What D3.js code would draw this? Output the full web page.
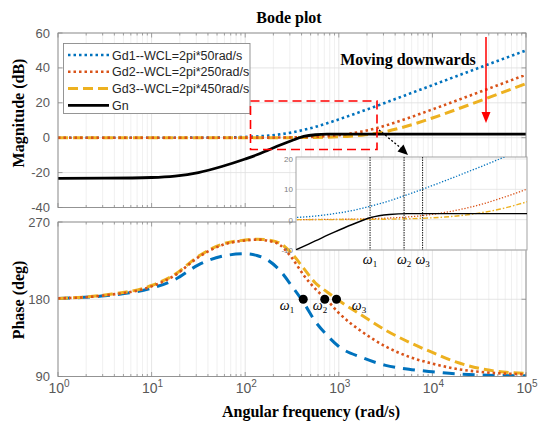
<!DOCTYPE html>
<html>
<head>
<meta charset="utf-8">
<script src="https://d3js.org/d3.v7.min.js"></script>
<style>
  body { margin: 0; background: #fff; }
  svg { display: block; }
  .tick-lbl { font-family: "Liberation Sans", Arial, sans-serif; font-size: 13px; fill: #595959; }
  .bold-lbl { font-family: "Liberation Serif", "Times New Roman", serif; font-weight: bold; font-size: 16px; fill: #000; }
  .leg { font-family: "Liberation Sans", Arial, sans-serif; font-size: 12.5px; fill: #262626; }
  .omega { font-family: "Liberation Serif", "Times New Roman", serif; font-style: italic; font-size: 14px; fill: #000; }
</style>
</head>
<body>
<svg id="chart" width="539" height="424"></svg>
<script>
// frequency grid (log10 of rad/s) for the magnitude curves
var magExp = [0, 0.5, 1, 1.25, 1.5, 1.75, 2, 2.125, 2.25, 2.375, 2.5, 2.625, 2.75, 2.875, 3, 3.125, 3.25, 3.375, 3.5, 3.625, 3.75, 4, 4.5, 5];
var magGd1 = [0, 0, 0, 0, 0.05, 0.14, 0.42, 0.72, 1.2, 1.96, 3.0, 4.47, 6.2, 8.27, 10.5, 12.8, 15.2, 17.6, 20.1, 22.6, 25.1, 30.1, 40.1, 50];
var magGd2 = [0, 0, 0, 0, 0, 0, 0.02, 0.03, 0.06, 0.1, 0.17, 0.3, 0.53, 0.89, 1.48, 2.36, 3.58, 5.1, 7.0, 9.1, 11.4, 16.2, 26.1, 36.1];
var magGd3 = [0, 0, 0, 0, 0, 0, 0.01, 0.01, 0.02, 0.03, 0.05, 0.1, 0.17, 0.3, 0.52, 0.87, 1.45, 2.32, 3.5, 5.1, 6.96, 11.3, 21.0, 31.0];
var magGn  = [-23.3, -23.2, -22.8, -22.0, -20.0, -16.5, -12.2, -9.8, -7.0, -4.2, -1.6, 0.7, 1.7, 2.0, 2.0, 2.0, 2.0, 2.0, 2.0, 2.0, 2.0, 2.0, 2.0, 2.0];

// frequency grid for the phase curves
var phExp = [0, 0.5, 1, 1.25, 1.5, 1.75, 2, 2.125, 2.25, 2.375, 2.5, 2.625, 2.75, 2.875, 3, 3.25, 3.5, 3.75, 4, 4.25, 4.5, 5];
var phGd1 = [181, 184, 193, 203, 220, 230, 233, 231, 225, 213, 195, 176, 154, 138, 125, 112, 103, 98.5, 95.5, 93, 91.8, 90.8];
var phGd2 = [181, 184.5, 195, 208, 229, 243, 248.5, 249.5, 248, 243, 228, 208, 192, 179, 164, 142, 125, 113, 105, 99, 95.5, 92.5];
var phGd3 = [181, 185, 196, 209, 230, 244, 249, 250, 249, 245, 233, 216, 199, 188.5, 178.5, 161, 144, 130, 118, 107, 99.5, 93.5];

// crossover frequencies (rad/s)
var omegaVals = [417, 708, 944];
var omegaNames = ["1", "2", "3"];

var seriesNames = ["Gd1--WCL=2pi*50rad/s", "Gd2--WCL=2pi*250rad/s", "Gd3--WCL=2pi*450rad/s", "Gn"];
var magTicks = [-40, -20, 0, 20, 40, 60];
var phTicks = [90, 180, 270];
var decades = [0, 1, 2, 3, 4, 5];

var C_BLUE = "#0072BD", C_ORANGE = "#D95319", C_YELLOW = "#EDB120";

var svg = d3.select("#chart");

var L = 58, R = 526;
var x = d3.scaleLog().domain([1, 1e5]).range([L, R]);
var yMag = d3.scaleLinear().domain([-40, 60]).range([207.5, 33]);
var yPh = d3.scaleLinear().domain([90, 270]).range([376.5, 222]);

function pts(exps, vals) {
  return exps.map(function (e, i) { return [Math.pow(10, e), vals[i]]; });
}

// minor log positions
var minors = [];
for (var d = 0; d < 5; d++) {
  for (var k = 2; k <= 9; k++) minors.push(k * Math.pow(10, d));
}
var majors = decades.map(function (e) { return Math.pow(10, e); });

function drawAxes(yScale, ticks) {
  var g = svg.append("g");
  var top = yScale.range()[1], bot = yScale.range()[0];
  g.append("rect").attr("x", L).attr("y", top).attr("width", R - L).attr("height", bot - top).attr("fill", "#fff");
  g.selectAll(".mn").data(minors).enter().append("line")
    .attr("x1", function (v) { return x(v); }).attr("x2", function (v) { return x(v); })
    .attr("y1", top).attr("y2", bot).attr("stroke", "#ececec").attr("stroke-width", 0.8);
  g.selectAll(".mj").data(majors).enter().append("line")
    .attr("x1", function (v) { return x(v); }).attr("x2", function (v) { return x(v); })
    .attr("y1", top).attr("y2", bot).attr("stroke", "#dedede").attr("stroke-width", 0.8);
  g.selectAll(".hy").data(ticks).enter().append("line")
    .attr("x1", L).attr("x2", R)
    .attr("y1", function (v) { return yScale(v); }).attr("y2", function (v) { return yScale(v); })
    .attr("stroke", "#dedede").attr("stroke-width", 0.8);
  // inward ticks
  var tk = g.append("g").attr("stroke", "#8a8a8a").attr("stroke-width", 0.8);
  minors.forEach(function (v) {
    tk.append("line").attr("x1", x(v)).attr("x2", x(v)).attr("y1", bot).attr("y2", bot - 2.5);
    tk.append("line").attr("x1", x(v)).attr("x2", x(v)).attr("y1", top).attr("y2", top + 2.5);
  });
  majors.forEach(function (v) {
    tk.append("line").attr("x1", x(v)).attr("x2", x(v)).attr("y1", bot).attr("y2", bot - 4.5);
    tk.append("line").attr("x1", x(v)).attr("x2", x(v)).attr("y1", top).attr("y2", top + 4.5);
  });
  ticks.forEach(function (v) {
    tk.append("line").attr("x1", L).attr("x2", L + 4.5).attr("y1", yScale(v)).attr("y2", yScale(v));
    tk.append("line").attr("x1", R).attr("x2", R - 4.5).attr("y1", yScale(v)).attr("y2", yScale(v));
  });
  g.selectAll(".yl").data(ticks).enter().append("text")
    .attr("class", "tick-lbl").attr("x", L - 8).attr("y", function (v) { return yScale(v) + 4.5; })
    .attr("text-anchor", "end").text(function (v) { return v; });
  return g;
}

function lineFn(yScale, xs) {
  return d3.line().x(function (p) { return xs(p[0]); }).y(function (p) { return yScale(p[1]); }).curve(d3.curveMonotoneX);
}

function addClip(id, x0, y0, w, h) {
  svg.append("clipPath").attr("id", id).append("rect").attr("x", x0).attr("y", y0).attr("width", w).attr("height", h);
}

// ---------- magnitude ----------
drawAxes(yMag, magTicks);
addClip("clipMag", L, 33, R - L, 207.5 - 33);
var gm = svg.append("g").attr("clip-path", "url(#clipMag)");
var lm = lineFn(yMag, x);
gm.append("path").attr("d", lm(pts(magExp, magGd1))).attr("fill", "none").attr("stroke", C_BLUE).attr("stroke-width", 2.6).attr("stroke-dasharray", "2.5 3");
gm.append("path").attr("d", lm(pts(magExp, magGd3))).attr("fill", "none").attr("stroke", C_YELLOW).attr("stroke-width", 3).attr("stroke-dasharray", "10 5");
gm.append("path").attr("d", lm(pts(magExp, magGd2))).attr("fill", "none").attr("stroke", C_ORANGE).attr("stroke-width", 2.6).attr("stroke-dasharray", "2.5 3");
gm.append("path").attr("d", lm(pts(magExp, magGn))).attr("fill", "none").attr("stroke", "#000").attr("stroke-width", 2.8);
svg.append("rect").attr("x", L).attr("y", 33).attr("width", R - L).attr("height", 207.5 - 33).attr("fill", "none").attr("stroke", "#8a8a8a").attr("stroke-width", 0.9);

// legend
var lg = svg.append("g");
lg.append("rect").attr("x", 63.5).attr("y", 43.5).attr("width", 186.5).attr("height", 70).attr("fill", "#fff").attr("stroke", "#8a8a8a").attr("stroke-width", 0.9);
var legStyles = [
  { c: C_BLUE, w: 2.6, dash: "2.5 3" },
  { c: C_ORANGE, w: 2.6, dash: "2.5 3" },
  { c: C_YELLOW, w: 3, dash: "10 5" },
  { c: "#000", w: 2.8, dash: null }
];
seriesNames.forEach(function (name, i) {
  var yy = 55 + i * 16.8;
  var ln = lg.append("line").attr("x1", 68).attr("x2", 109).attr("y1", yy).attr("y2", yy)
    .attr("stroke", legStyles[i].c).attr("stroke-width", legStyles[i].w);
  if (legStyles[i].dash) ln.attr("stroke-dasharray", legStyles[i].dash);
  lg.append("text").attr("class", "leg").attr("x", 112).attr("y", yy + 4.5).text(name);
});

// annotations
svg.append("text").attr("class", "bold-lbl").attr("x", 289).attr("y", 23).attr("text-anchor", "middle").text("Bode plot");
svg.append("text").attr("class", "bold-lbl").attr("x", 408).attr("y", 65).attr("text-anchor", "middle").text("Moving downwards");
svg.append("line").attr("x1", 486).attr("x2", 486).attr("y1", 37).attr("y2", 113).attr("stroke", "#ff0000").attr("stroke-width", 1.5);
svg.append("path").attr("d", "M481.5,112 L490.5,112 L486,123 Z").attr("fill", "#ff0000");
svg.append("rect").attr("x", 250.5).attr("y", 101).attr("width", 126.5).attr("height", 48.5)
  .attr("fill", "none").attr("stroke", "#ff0000").attr("stroke-width", 1.6).attr("stroke-dasharray", "9 5");

// ---------- phase ----------
drawAxes(yPh, phTicks);
addClip("clipPh", L, 222, R - L, 376.5 - 222);
var gp = svg.append("g").attr("clip-path", "url(#clipPh)");
var lp = lineFn(yPh, x);
gp.append("path").attr("d", lp(pts(phExp, phGd1))).attr("fill", "none").attr("stroke", C_BLUE).attr("stroke-width", 3).attr("stroke-dasharray", "12 8");
gp.append("path").attr("d", lp(pts(phExp, phGd3))).attr("fill", "none").attr("stroke", C_YELLOW).attr("stroke-width", 3).attr("stroke-dasharray", "10 5");
gp.append("path").attr("d", lp(pts(phExp, phGd2))).attr("fill", "none").attr("stroke", C_ORANGE).attr("stroke-width", 2.6).attr("stroke-dasharray", "2.5 3");
svg.append("rect").attr("x", L).attr("y", 222).attr("width", R - L).attr("height", 376.5 - 222).attr("fill", "none").attr("stroke", "#8a8a8a").attr("stroke-width", 0.9);

svg.selectAll(".dot").data(omegaVals).enter().append("circle")
  .attr("cx", function (v) { return x(v); }).attr("cy", yPh(180)).attr("r", 4.5).attr("fill", "#000");
var phOmegaX = [287, 320, 359];
omegaNames.forEach(function (n, i) {
  var t = svg.append("text").attr("class", "omega").attr("x", phOmegaX[i]).attr("y", 310).attr("text-anchor", "middle");
  t.append("tspan").text("\u03c9");
  t.append("tspan").attr("dy", 3).attr("font-size", 9).attr("font-style", "normal").text(n);
});

// x tick labels
decades.forEach(function (e) {
  var t = svg.append("text").attr("class", "tick-lbl").attr("x", x(Math.pow(10, e)) + 1).attr("y", 393).attr("text-anchor", "middle");
  t.append("tspan").attr("font-size", 14).text("10");
  t.append("tspan").attr("dy", -6).attr("font-size", 10).text(e);
});

// axis titles
svg.append("text").attr("class", "bold-lbl").attr("transform", "translate(24,113) rotate(-90)").attr("text-anchor", "middle").text("Magnitude (dB)");
svg.append("text").attr("class", "bold-lbl").attr("transform", "translate(24,300) rotate(-90)").attr("text-anchor", "middle").text("Phase (deg)");
svg.append("text").attr("class", "bold-lbl").attr("x", 311).attr("y", 417).attr("text-anchor", "middle").text("Angular frequency (rad/s)");

// ---------- inset ----------
var IL = 296, IR = 527, IT = 157, IB = 250;
var xi = d3.scaleLog().domain([Math.pow(10, 2.12), Math.pow(10, 3.68)]).range([IL, IR]);
var yi = d3.scaleLinear().domain([-10, 20]).range([IB, IT + 2]);
var insetTicks = [-10, 0, 10, 20];
var ig = svg.append("g");
ig.append("rect").attr("x", IL).attr("y", IT).attr("width", IR - IL).attr("height", IB - IT).attr("fill", "#fff");
var iminors = [200, 300, 400, 500, 600, 700, 800, 900, 1000, 2000, 3000, 4000];
ig.selectAll(".ig").data(iminors).enter().append("line")
  .attr("x1", function (v) { return xi(v); }).attr("x2", function (v) { return xi(v); })
  .attr("y1", IT).attr("y2", IB).attr("stroke", function (v) { return v === 1000 ? "#dedede" : "#ececec"; }).attr("stroke-width", 0.8);
ig.selectAll(".ih").data(insetTicks).enter().append("line")
  .attr("x1", IL).attr("x2", IR).attr("y1", function (v) { return yi(v); }).attr("y2", function (v) { return yi(v); })
  .attr("stroke", "#e2e2e2").attr("stroke-width", 0.8);
ig.selectAll(".il").data(insetTicks).enter().append("text")
  .attr("x", IL - 3).attr("y", function (v) { return yi(v) + 3; }).attr("text-anchor", "end")
  .attr("font-family", "Liberation Sans, Arial, sans-serif").attr("font-size", 8).attr("fill", "#808080")
  .text(function (v) { return v; });
addClip("clipIn", IL, IT, IR - IL, IB - IT);
var gi = svg.append("g").attr("clip-path", "url(#clipIn)");
var li = lineFn(yi, xi);
gi.append("path").attr("d", li(pts(magExp, magGd1))).attr("fill", "none").attr("stroke", C_BLUE).attr("stroke-width", 1.3).attr("stroke-dasharray", "1.3 1.7");
gi.append("path").attr("d", li(pts(magExp, magGd2))).attr("fill", "none").attr("stroke", C_ORANGE).attr("stroke-width", 1.3).attr("stroke-dasharray", "1.3 1.7");
gi.append("path").attr("d", li(pts(magExp, magGd3))).attr("fill", "none").attr("stroke", C_YELLOW).attr("stroke-width", 1.4).attr("stroke-dasharray", "5 2 1.5 2");
gi.append("path").attr("d", li(pts(magExp, magGn))).attr("fill", "none").attr("stroke", "#000").attr("stroke-width", 1.4);
gi.selectAll(".wl").data(omegaVals).enter().append("line")
  .attr("x1", function (v) { return xi(v); }).attr("x2", function (v) { return xi(v); })
  .attr("y1", IT).attr("y2", IB).attr("stroke", "#000").attr("stroke-width", 0.9).attr("stroke-dasharray", "1.5 1");
ig.append("rect").attr("x", IL).attr("y", IT).attr("width", IR - IL).attr("height", IB - IT).attr("fill", "none").attr("stroke", "#9a9a9a").attr("stroke-width", 0.9);
omegaVals.forEach(function (v, i) {
  var t = svg.append("text").attr("class", "omega").attr("x", xi(v)).attr("y", 264).attr("text-anchor", "middle");
  t.append("tspan").text("\u03c9");
  t.append("tspan").attr("dy", 3).attr("font-size", 9).attr("font-style", "normal").text(omegaNames[i]);
});

// dotted pointer arrow
svg.append("line").attr("x1", 379).attr("y1", 130).attr("x2", 402).attr("y2", 149)
  .attr("stroke", "#000").attr("stroke-width", 1.3).attr("stroke-dasharray", "2 2");
svg.append("path").attr("d", "M408,155 L397.5,151.5 L403.5,144.5 Z").attr("fill", "#000");
</script>
</body>
</html>
